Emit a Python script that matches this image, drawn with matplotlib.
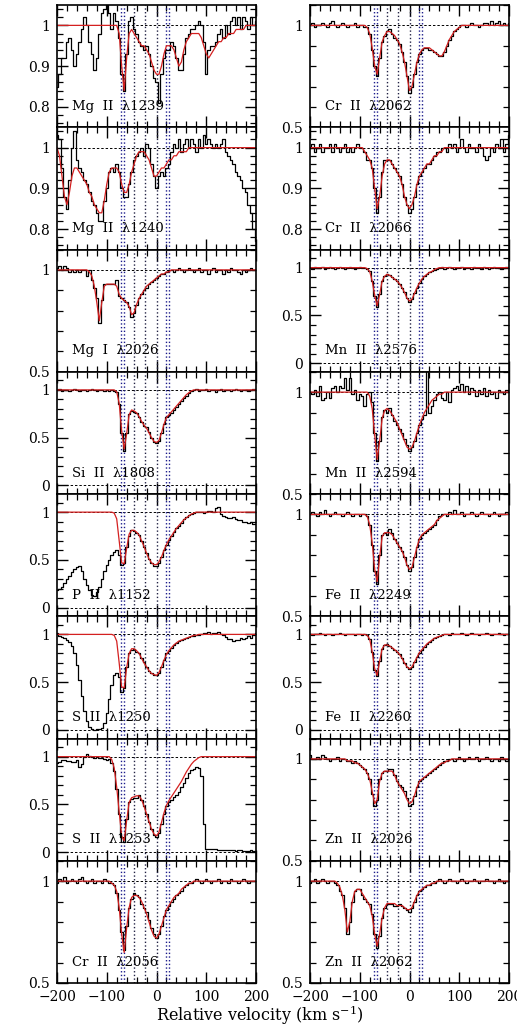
import numpy as np
import matplotlib.pyplot as plt
from matplotlib.ticker import MultipleLocator

plt.rcParams['font.family'] = ['DejaVu Serif']
plt.rcParams['mathtext.fontset'] = 'dejavuserif'

# velocity grid of the spectra (km/s)
vel = np.arange(-200, 201, 5)

# component velocities (dotted lines)
comp_blue = [-71, -66, 20, 26]
comp_black = [-45, -24, 0]

# ---- left column ----
mg1239 = [0.85,0.88,0.92,0.92,0.96,0.97,0.94,0.90,0.93,0.96,0.99,1.02,1.00,0.96,0.93,0.89,0.92,0.98,1.03,1.04,
          1.05,1.03,0.99,1.03,1.01,0.97,0.88,0.84,0.93,1.01,1.02,0.99,0.98,0.96,0.95,0.94,0.95,0.93,0.90,0.87,
          0.86,0.81,0.88,0.92,0.94,0.94,0.96,0.95,0.92,0.89,0.89,0.93,0.97,0.98,0.99,0.99,1.00,1.01,1.00,0.96,
          0.88,0.94,0.95,0.95,0.96,0.98,0.99,0.97,1.00,0.98,1.01,1.02,1.00,1.02,0.99,1.02,1.01,0.99,1.02,1.00,1.01]
mg1239_fit = [1.00]*20 + \
         [1.00,1.00,1.00,1.00,1.00,0.98,0.90,0.84,0.92,0.98,0.99,0.98,0.97,0.96,0.95,0.95,0.94,0.93,0.91,0.89,
          0.88,0.88,0.90,0.93,0.95,0.95,0.95,0.94,0.92,0.90,0.91,0.94,0.96,0.97,0.98,0.98,0.98,0.98,0.97,0.95,
          0.93,0.92,0.93,0.94,0.95,0.96,0.96,0.97,0.97,0.98,0.98,0.98,0.99,0.99,0.99,0.99,1.00,1.00,1.00,1.00,1.00]

mg1240 = [1.03,1.02,0.95,0.88,0.85,0.92,1.00,1.04,0.97,0.95,0.94,0.92,0.91,0.89,0.87,0.86,0.84,0.82,0.82,0.87,
          0.90,0.94,0.95,0.94,0.96,0.94,0.90,0.88,0.88,0.91,0.94,0.97,0.98,0.99,1.00,0.98,1.01,1.00,0.96,0.93,
          0.90,0.93,0.94,0.93,0.95,0.96,0.99,1.01,1.00,1.02,0.99,1.01,1.02,1.00,1.02,1.01,0.99,1.02,1.00,1.03,
          1.01,1.02,1.01,1.00,1.01,1.00,1.01,1.02,0.99,0.98,0.97,0.96,0.94,0.93,0.92,0.90,0.89,0.86,0.84,0.80,0.77]
mg1240_fit = [1.00,0.98,0.93,0.88,0.86,0.89,0.93,0.95,0.95,0.94,0.93,0.92,0.91,0.89,0.88,0.86,0.85,0.84,0.84,0.87,
          0.91,0.94,0.95,0.95,0.95,0.94,0.91,0.89,0.89,0.91,0.94,0.96,0.98,0.99,0.99,0.99,0.98,0.97,0.95,0.93,
          0.93,0.94,0.95,0.95,0.96,0.97,0.97,0.98,0.98,0.99,0.99,0.99,0.99,1.00,1.00,1.00,1.00,1.00,1.00,1.00] + [1.00]*21

mgi2026 = [1.01,1.02,1.00,1.02,1.01,0.99,1.00,0.99,1.00,0.99,1.00,1.00,0.97,1.00,0.95,0.91,0.86,0.74,0.85,0.93,
           0.93,0.93,0.93,0.93,0.95,0.87,0.86,0.85,0.84,0.82,0.77,0.79,0.83,0.86,0.88,0.90,0.91,0.93,0.94,0.95,
           0.96,0.97,0.98,0.98,0.99,1.00,1.00,0.99,1.00,1.01,1.00,0.99,1.00,1.01,1.00,0.99,1.00,1.01,0.99,1.00,
           1.00,0.98,1.00,1.01,0.99,1.00,1.00,0.98,1.00,0.99,1.01,1.00,1.00,0.99,0.98,1.00,0.99,1.00,1.01,1.00,1.00]
mgi2026_fit = [1.00]*13 + [0.99,0.97,0.92,0.84,0.75,0.84,0.92,
           0.93,0.93,0.93,0.93,0.92,0.88,0.86,0.85,0.84,0.82,0.78,0.79,0.83,0.86,0.88,0.90,0.92,0.93,0.94,0.95,
           0.96,0.97,0.98,0.98,0.99,0.99] + [1.00]*35

si1808 = [1.00,1.01,0.99,1.00,1.00,0.99,1.00,1.01,1.00,0.99,1.00,1.00,0.99,1.00,1.01,1.00,0.99,1.00,1.00,0.99,
          1.00,0.99,1.00,0.99,0.98,0.85,0.55,0.36,0.55,0.75,0.78,0.77,0.76,0.72,0.66,0.62,0.61,0.56,0.50,0.45,
          0.44,0.46,0.55,0.64,0.72,0.74,0.76,0.79,0.82,0.85,0.88,0.91,0.94,0.97,0.99,1.00,1.01,0.99,1.00,1.00,
          1.01,0.99,1.00,1.00,0.98,1.00,1.01,0.99,1.00,1.00,0.99,1.00,1.01,1.00,0.99,1.00,1.00,0.99,1.00,1.01,1.00]
si1808_fit = [1.00]*20 + \
         [1.00,1.00,1.00,1.00,0.98,0.86,0.57,0.38,0.54,0.74,0.79,0.78,0.76,0.72,0.67,0.63,0.60,0.55,0.50,0.46,
          0.45,0.47,0.55,0.64,0.71,0.74,0.77,0.80,0.83,0.86,0.89,0.92,0.95,0.97,0.99] + [1.00]*26

p1152 = [0.18,0.20,0.22,0.26,0.30,0.33,0.37,0.40,0.43,0.44,0.38,0.30,0.24,0.18,0.13,0.12,0.16,0.22,0.30,0.38,
         0.45,0.50,0.55,0.58,0.60,0.55,0.45,0.47,0.63,0.75,0.81,0.80,0.78,0.76,0.70,0.64,0.57,0.51,0.47,0.44,
         0.44,0.47,0.53,0.60,0.66,0.71,0.75,0.79,0.83,0.86,0.89,0.93,0.95,0.97,0.98,0.99,1.00,1.00,1.00,0.99,
         1.00,1.01,1.01,1.00,1.04,1.05,0.98,0.96,0.95,0.94,0.94,0.95,0.93,0.92,0.92,0.90,0.90,0.89,0.90,0.88,0.88]
p1152_fit = [1.00]*20 + \
        [1.00,1.00,1.00,0.99,0.93,0.70,0.47,0.46,0.62,0.77,0.81,0.81,0.79,0.76,0.70,0.64,0.57,0.51,0.47,0.45,
         0.45,0.48,0.53,0.60,0.66,0.71,0.75,0.79,0.83,0.86,0.89,0.92,0.94,0.96,0.98,0.99] + [1.00]*25

s1250 = [1.01,0.98,0.97,0.96,0.94,0.92,0.88,0.80,0.68,0.52,0.36,0.20,0.09,0.03,0.01,0.00,0.01,0.01,0.02,0.07,
         0.18,0.32,0.47,0.57,0.60,0.55,0.40,0.44,0.66,0.80,0.84,0.85,0.82,0.80,0.75,0.71,0.66,0.62,0.60,0.58,
         0.57,0.60,0.66,0.73,0.80,0.83,0.86,0.89,0.91,0.93,0.94,0.95,0.96,0.97,0.98,0.98,0.99,0.99,1.00,1.01,
         1.01,1.02,1.00,1.01,1.01,1.03,1.00,0.99,0.97,0.95,0.95,0.93,0.94,0.94,0.96,0.95,0.96,0.98,0.96,0.99,1.01]
s1250_fit = [1.00]*20 + \
        [1.00,1.00,1.00,0.99,0.93,0.70,0.45,0.44,0.65,0.80,0.85,0.85,0.83,0.80,0.75,0.70,0.66,0.62,0.59,0.58,
         0.57,0.60,0.66,0.73,0.79,0.83,0.86,0.89,0.91,0.93,0.94,0.95,0.96,0.97,0.98,0.99,0.99] + [1.00]*24

s1253 = [0.93,0.94,0.96,0.96,0.95,0.95,0.94,0.94,0.96,0.89,0.92,1.00,1.03,1.01,1.00,0.99,1.00,0.99,0.99,0.98,
         0.97,0.98,0.93,0.85,0.66,0.40,0.16,0.11,0.35,0.53,0.56,0.57,0.57,0.60,0.55,0.48,0.40,0.32,0.24,0.18,
         0.16,0.20,0.30,0.40,0.48,0.52,0.55,0.58,0.60,0.63,0.68,0.72,0.78,0.83,0.86,0.87,0.89,0.88,0.80,0.30,
         0.03,0.03,0.03,0.03,0.03,0.02,0.02,0.02,0.02,0.02,0.02,0.02,0.01,0.02,0.02,0.01,0.01,0.01,0.02,0.01,0.01]
s1253_fit = [1.00]*20 + \
        [1.00,1.00,0.97,0.88,0.68,0.42,0.17,0.12,0.33,0.52,0.57,0.58,0.59,0.59,0.55,0.48,0.40,0.32,0.24,0.19,
         0.17,0.21,0.31,0.41,0.49,0.54,0.58,0.62,0.66,0.70,0.74,0.79,0.84,0.88,0.92,0.95,0.97,0.99] + [1.00]*23

cr2056 = [0.99,1.01,1.00,1.02,0.99,1.00,1.01,1.00,0.99,1.01,1.02,1.00,0.99,1.00,1.01,0.99,1.00,1.00,0.99,1.01,
          1.00,0.99,0.99,0.98,0.94,0.86,0.75,0.66,0.78,0.87,0.91,0.94,0.93,0.92,0.89,0.87,0.85,0.81,0.77,0.74,
          0.72,0.74,0.78,0.83,0.86,0.88,0.90,0.91,0.93,0.94,0.95,0.97,0.98,0.99,0.99,1.00,1.01,1.00,0.99,1.00,
          1.01,1.00,0.99,1.00,1.00,1.01,0.99,1.00,1.00,0.99,1.01,1.00,1.00,0.99,1.00,1.01,1.00,0.99,1.00,1.00,1.00]
cr2056_fit = [1.00]*20 + \
         [1.00,1.00,0.99,0.98,0.95,0.87,0.74,0.65,0.77,0.87,0.92,0.93,0.93,0.92,0.90,0.87,0.84,0.80,0.76,0.73,
          0.72,0.74,0.78,0.82,0.86,0.88,0.90,0.92,0.93,0.94,0.96,0.97,0.98,0.99,0.99] + [1.00]*26

# ---- right column ----
cr2062 = [1.00,1.01,0.99,1.00,1.00,1.01,1.00,0.99,1.01,1.02,1.00,0.99,1.00,1.01,1.00,0.99,1.00,1.00,1.01,0.99,
          1.00,1.00,0.99,0.99,0.96,0.88,0.80,0.75,0.84,0.92,0.95,0.97,0.98,0.96,0.94,0.93,0.91,0.87,0.82,0.75,
          0.67,0.70,0.76,0.82,0.86,0.88,0.89,0.89,0.88,0.88,0.87,0.86,0.85,0.85,0.87,0.90,0.93,0.95,0.97,0.98,
          0.99,1.00,1.00,0.99,1.00,1.01,1.00,1.00,0.99,1.00,1.01,1.01,1.00,1.02,1.00,1.01,1.02,1.00,1.01,1.00,1.01]
cr2062_fit = [1.00]*20 + \
         [1.00,1.00,1.00,0.99,0.96,0.89,0.80,0.76,0.84,0.92,0.95,0.97,0.97,0.96,0.95,0.93,0.91,0.87,0.82,0.75,
          0.68,0.70,0.76,0.82,0.86,0.88,0.89,0.89,0.89,0.88,0.87,0.86,0.85,0.85,0.87,0.90,0.93,0.95,0.97,0.98,
          0.99] + [1.00]*20

cr2066 = [1.00,1.01,0.99,1.00,1.01,0.99,1.00,1.00,1.01,0.99,1.01,1.00,0.99,1.00,1.01,0.99,1.00,0.99,1.00,1.01,
          1.00,1.00,0.99,0.97,0.97,0.95,0.90,0.84,0.88,0.94,0.97,0.97,0.97,0.96,0.95,0.94,0.93,0.91,0.88,0.86,
          0.84,0.85,0.88,0.91,0.93,0.94,0.95,0.96,0.96,0.97,0.98,0.99,0.99,1.00,1.00,0.99,1.01,1.00,1.01,0.99,
          1.00,1.02,1.00,0.99,1.01,1.00,1.00,0.99,1.01,1.00,0.98,0.97,0.98,1.00,0.99,1.01,1.00,1.02,0.99,1.01,1.03]
cr2066_fit = [1.00]*20 + \
         [1.00,1.00,0.99,0.98,0.97,0.95,0.90,0.85,0.88,0.93,0.96,0.97,0.97,0.96,0.95,0.94,0.93,0.91,0.88,0.86,
          0.85,0.86,0.88,0.91,0.93,0.94,0.95,0.96,0.96,0.97,0.98,0.98,0.99,0.99] + [1.00]*27

mn2576 = [1.00,0.99,1.01,1.00,1.00,1.01,0.99,1.00,1.01,1.00,0.99,1.00,1.01,1.00,0.99,1.00,1.01,1.00,0.99,1.00,
          1.01,1.00,1.00,0.99,0.96,0.86,0.70,0.59,0.72,0.86,0.91,0.93,0.92,0.90,0.88,0.86,0.83,0.79,0.74,0.68,
          0.64,0.67,0.73,0.79,0.84,0.88,0.91,0.93,0.95,0.96,0.98,0.99,1.00,1.01,0.99,1.00,1.01,1.00,0.99,1.00,
          1.00,1.01,0.99,1.00,1.00,0.99,1.01,1.00,1.00,0.99,1.01,1.00,0.99,1.00,1.01,1.00,1.00,0.99,1.00,1.01,1.00]
mn2576_fit = [1.00]*20 + \
         [1.00,1.00,1.00,0.99,0.96,0.86,0.71,0.60,0.72,0.86,0.91,0.93,0.92,0.90,0.88,0.86,0.83,0.79,0.74,0.68,
          0.65,0.67,0.73,0.79,0.84,0.88,0.91,0.93,0.95,0.96,0.98,0.99] + [1.00]*29

mn2594 = [1.00,0.99,1.01,0.98,1.03,0.96,0.97,1.00,0.97,1.02,1.03,1.00,1.03,1.02,1.07,1.01,1.07,0.99,1.01,0.96,
          0.99,0.98,0.93,0.99,1.00,0.95,0.80,0.66,0.76,0.88,0.91,0.90,0.92,0.89,0.86,0.84,0.82,0.80,0.77,0.74,
          0.71,0.73,0.76,0.80,0.84,0.87,0.89,1.15,0.90,0.93,0.96,0.99,1.00,0.97,0.96,1.00,0.95,1.01,1.02,1.03,
          1.01,1.04,1.00,1.03,0.99,1.02,1.01,0.98,1.01,0.99,1.02,0.98,1.01,0.99,1.00,0.97,1.01,1.00,0.99,1.01,1.00]
mn2594_fit = [1.00]*20 + \
         [1.00,1.00,1.00,1.00,0.98,0.92,0.79,0.67,0.76,0.87,0.91,0.92,0.91,0.89,0.87,0.85,0.82,0.79,0.76,0.73,
          0.72,0.73,0.76,0.80,0.84,0.87,0.90,0.92,0.94,0.96,0.97,0.98,0.99,0.99] + [1.00]*27

fe2249 = [1.00,1.01,1.00,0.99,1.01,1.00,1.02,1.00,0.99,1.00,1.01,1.00,1.00,0.99,1.00,1.01,1.00,0.99,1.00,1.00,
          0.99,1.00,1.00,0.99,0.95,0.85,0.72,0.66,0.80,0.90,0.91,0.90,0.93,0.91,0.88,0.86,0.84,0.82,0.79,0.75,
          0.72,0.74,0.79,0.84,0.88,0.90,0.91,0.92,0.93,0.94,0.95,0.97,0.99,1.00,1.00,0.99,1.01,1.00,1.02,1.00,
          1.00,1.01,0.99,1.00,1.00,1.01,1.00,0.99,1.00,1.01,1.00,1.00,0.99,1.00,1.01,1.00,0.99,1.00,1.00,1.01,1.00]
fe2249_fit = [1.00]*20 + \
         [1.00,1.00,1.00,0.99,0.95,0.86,0.73,0.67,0.79,0.89,0.91,0.91,0.91,0.90,0.88,0.86,0.84,0.82,0.79,0.75,
          0.73,0.74,0.79,0.84,0.88,0.90,0.91,0.92,0.93,0.94,0.95,0.97,0.98,0.99] + [1.00]*27

fe2260 = [1.00,0.99,1.00,1.00,1.01,1.00,0.99,1.00,1.00,0.99,1.00,1.00,1.01,1.00,0.99,1.00,1.00,1.00,0.99,1.00,
          1.00,0.99,1.00,0.99,0.95,0.82,0.63,0.56,0.72,0.85,0.89,0.90,0.88,0.86,0.84,0.82,0.79,0.75,0.70,0.66,
          0.64,0.66,0.71,0.76,0.81,0.84,0.87,0.90,0.92,0.94,0.96,0.97,0.98,0.99,1.00,1.00,0.99,1.01,1.00,1.00,
          1.00,1.01,1.00,0.99,1.00,1.01,1.00,1.00,0.99,1.00,1.00,1.01,1.00,0.99,1.00,1.00,1.01,1.00,0.99,1.00,1.00]
fe2260_fit = [1.00]*20 + \
         [1.00,1.00,1.00,0.99,0.95,0.82,0.64,0.57,0.72,0.85,0.89,0.89,0.88,0.86,0.84,0.82,0.79,0.75,0.70,0.66,
          0.64,0.66,0.71,0.76,0.81,0.84,0.87,0.90,0.92,0.94,0.96,0.97,0.98,0.99] + [1.00]*27

zn2026 = [1.02,1.00,1.00,1.01,1.00,1.02,1.01,1.00,0.99,1.00,1.00,1.01,0.99,1.00,1.00,0.99,0.99,0.98,0.99,0.98,
          0.97,0.96,0.95,0.93,0.90,0.83,0.77,0.80,0.90,0.93,0.94,0.94,0.95,0.95,0.92,0.89,0.87,0.86,0.84,0.81,
          0.77,0.78,0.82,0.86,0.89,0.90,0.91,0.92,0.93,0.94,0.95,0.96,0.97,0.98,0.99,0.99,1.00,1.00,0.99,1.00,
          1.01,1.00,0.99,1.00,1.01,1.00,1.00,1.01,0.99,1.00,1.00,1.01,1.00,0.99,1.00,1.00,0.99,1.01,1.00,0.99,1.00]
zn2026_fit = [1.00]*15 + [0.99,0.99,0.99,0.98,0.98,
          0.97,0.96,0.95,0.93,0.90,0.84,0.78,0.80,0.89,0.93,0.94,0.94,0.94,0.94,0.92,0.89,0.87,0.85,0.83,0.80,
          0.78,0.79,0.82,0.86,0.89,0.90,0.91,0.92,0.93,0.94,0.95,0.96,0.97,0.98,0.98,0.99,0.99] + [1.00]*24

zn2062 = [0.99,1.00,1.01,0.99,1.00,1.01,1.00,0.99,1.00,1.00,0.99,0.98,0.95,0.93,0.87,0.74,0.80,0.90,0.95,0.96,
          0.96,0.93,0.91,0.90,0.89,0.84,0.74,0.67,0.73,0.82,0.87,0.89,0.89,0.89,0.88,0.88,0.89,0.88,0.87,0.86,
          0.85,0.87,0.90,0.93,0.95,0.96,0.97,0.98,0.98,0.99,0.99,1.00,1.01,1.00,0.99,1.00,1.01,1.00,1.00,0.99,
          1.00,1.01,1.00,0.99,1.00,1.00,1.01,1.00,0.99,1.00,1.00,1.01,1.00,1.00,0.99,1.00,1.01,1.00,0.99,1.00,1.00]
zn2062_fit = [1.00]*11 + [0.99,0.97,0.93,0.86,0.75,0.80,0.90,0.95,0.96,
          0.96,0.94,0.92,0.90,0.88,0.83,0.74,0.68,0.74,0.82,0.87,0.89,0.89,0.89,0.89,0.88,0.88,0.88,0.87,0.86,
          0.86,0.87,0.90,0.93,0.95,0.96,0.97,0.98,0.98,0.99,0.99] + [1.00]*30

left = [("Mg  II  λ1239", mg1239, mg1239_fit, "mg"),
        ("Mg  II  λ1240", mg1240, mg1240_fit, "mg"),
        ("Mg  I  λ2026", mgi2026, mgi2026_fit, "half"),
        ("Si  II  λ1808", si1808, si1808_fit, "full"),
        ("P  II  λ1152", p1152, p1152_fit, "full"),
        ("S  II  λ1250", s1250, s1250_fit, "full"),
        ("S  II  λ1253", s1253, s1253_fit, "full"),
        ("Cr  II  λ2056", cr2056, cr2056_fit, "half")]
right = [("Cr  II  λ2062", cr2062, cr2062_fit, "half"),
         ("Cr  II  λ2066", cr2066, cr2066_fit, "mg"),
         ("Mn  II  λ2576", mn2576, mn2576_fit, "full"),
         ("Mn  II  λ2594", mn2594, mn2594_fit, "half"),
         ("Fe  II  λ2249", fe2249, fe2249_fit, "half"),
         ("Fe  II  λ2260", fe2260, fe2260_fit, "full"),
         ("Zn  II  λ2026", zn2026, zn2026_fit, "half"),
         ("Zn  II  λ2062", zn2062, zn2062_fit, "half")]

yset = {"mg":   ((0.75, 1.05), [0.8, 0.9, 1.0], ["0.8", "0.9", "1"], 0.02),
        "half": ((0.5, 1.1), [0.5, 1.0], ["0.5", "1"], 0.1),
        "full": ((-0.09, 1.19), [0.0, 0.5, 1.0], ["0", "0.5", "1"], 0.1)}

W, H = 517, 1031
fig = plt.figure(figsize=(W / 100, H / 100), dpi=100)
rowh = (983 - 5) / 8

for col, panels in enumerate([left, right]):
    x0 = 57 if col == 0 else 310
    for i, (name, data, fit, kind) in enumerate(panels):
        top = 5 + i * rowh
        ax = fig.add_axes([x0 / W, 1 - (top + rowh) / H, 199 / W, rowh / H])
        ylim, yt, ytl, ymin = yset[kind]
        ax.axhline(1, color="k", ls=(0, (2.5, 2)), lw=0.7)
        if kind == "full":
            ax.axhline(0, color="k", ls=(0, (2.5, 2)), lw=0.7)
        for c in comp_blue:
            ax.axvline(c, color="#1c1c8c", ls=":", lw=1.0)
        for c in comp_black:
            ax.axvline(c, color="#222244", ls=":", lw=1.0)
        ax.step(vel, data, where="mid", color="k", lw=0.9)
        ax.plot(vel, fit, color="#d42020", lw=0.9)
        ax.set_xlim(-200, 200)
        ax.set_ylim(*ylim)
        ax.set_yticks(yt, ytl)
        ax.yaxis.set_minor_locator(MultipleLocator(ymin))
        ax.xaxis.set_major_locator(MultipleLocator(100))
        ax.xaxis.set_minor_locator(MultipleLocator(20))
        ax.tick_params(which="both", direction="in", top=True, right=True, labelsize=10, pad=5)
        ax.tick_params(which="major", length=8, width=1.0)
        ax.tick_params(which="minor", length=4.5, width=0.9)
        for s in ax.spines.values():
            s.set_linewidth(1.2)
        if i < 7:
            ax.set_xticklabels([])
        else:
            ax.set_xticks([-200, -100, 0, 100, 200], ["−200", "−100", "0", "100", "200"])
        ax.text(0.075, 0.17, name, transform=ax.transAxes, fontsize=9.5, va="center", ha="left")

fig.text(0.503, 0.004, "Relative velocity (km s$^{-1}$)", ha="center", va="bottom", fontsize=11.5)
fig.savefig("out.png", dpi=100)
